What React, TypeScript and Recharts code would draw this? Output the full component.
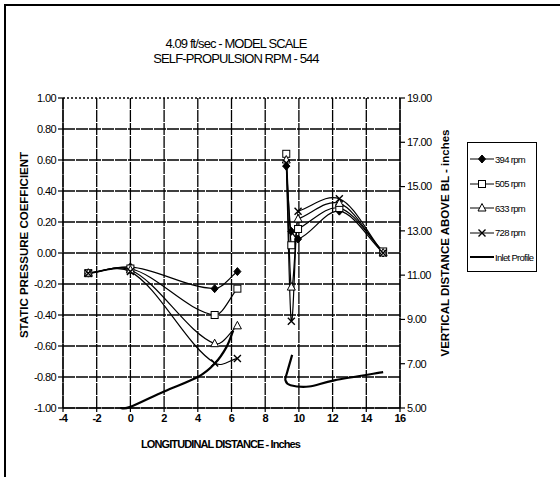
import React from "react";
import { LineChart, Line, XAxis, YAxis, ReferenceLine, Legend } from "recharts";

// stations along the hull (inches); index 4 is the gap between the two clusters
const stations = [-2.5, 0, 5, 6.35, 7.8, 9.25, 9.55, 9.95, 12.4, 15];

const cp394 = [-0.13, -0.09, -0.23, -0.12, null, 0.56, 0.14, 0.09, 0.27, 0.0];
const cp505 = [-0.13, -0.1, -0.4, -0.23, null, 0.64, 0.05, 0.155, 0.29, 0.01];
const cp633 = [-0.13, -0.11, -0.585, -0.47, null, 0.6, -0.22, 0.22, 0.32, 0.0];
const cp728 = [-0.13, -0.12, -0.71, -0.68, null, 0.58, -0.44, 0.27, 0.35, 0.0];

// inlet profile, vertical distance above BL (right axis)
const inletX = [-0.6, 0, 2, 4, 5, 5.7, 6.1, 7.8, 9.6, 9.3, 9.2, 9.5, 10.6, 12.1, 15];
const inletZ = [5.0, 5.05, 5.75, 6.4, 7.0, 7.75, 8.5, null, 7.4, 6.6, 6.25, 6.03, 5.97, 6.25, 6.62];

const xTicks = [-4, -2, 0, 2, 4, 6, 8, 10, 12, 14, 16];
const cpTicks = [-1.0, -0.8, -0.6, -0.4, -0.2, 0, 0.2, 0.4, 0.6, 0.8, 1.0];
const zTicks = [5, 7, 9, 11, 13, 15, 17, 19];

const zip = (xs: number[], ys: (number | null)[]) => xs.map((x, i) => ({ x, y: ys[i] }));

const FONT = '"Liberation Sans Narrow", "Liberation Sans", Arial, sans-serif';

// Catmull-Rom as cubic bezier, works with x going backwards too (inlet profile)
function smoothCurve(context: any) {
  let pts: number[][] = [];
  return {
    areaStart() {},
    areaEnd() {},
    lineStart() {
      pts = [];
    },
    point(x: number, y: number) {
      pts.push([+x, +y]);
    },
    lineEnd() {
      const n = pts.length;
      if (!n) return;
      context.moveTo(pts[0][0], pts[0][1]);
      for (let i = 0; i < n - 1; i++) {
        const p0 = pts[Math.max(i - 1, 0)];
        const p1 = pts[i];
        const p2 = pts[i + 1];
        const p3 = pts[Math.min(i + 2, n - 1)];
        context.bezierCurveTo(
          p1[0] + (p2[0] - p0[0]) / 6,
          p1[1] + (p2[1] - p0[1]) / 6,
          p2[0] - (p3[0] - p1[0]) / 6,
          p2[1] - (p3[1] - p1[1]) / 6,
          p2[0],
          p2[1]
        );
      }
    },
  };
}

// rough take on Excel's smoothing: overshoot at turning points, flat through steep runs
function excelCurve(context: any) {
  let pts: number[][] = [];
  return {
    areaStart() {},
    areaEnd() {},
    lineStart() {
      pts = [];
    },
    point(x: number, y: number) {
      pts.push([+x, +y]);
    },
    lineEnd() {
      const n = pts.length;
      if (!n) return;
      context.moveTo(pts[0][0], pts[0][1]);
      if (n === 1) return;
      const slope = (a: number[], b: number[]) => (b[1] - a[1]) / (b[0] - a[0] || 1e-6);
      const m: number[] = [];
      for (let i = 0; i < n; i++) {
        if (i === 0) m.push(slope(pts[0], pts[1]));
        else if (i === n - 1) m.push(slope(pts[n - 2], pts[n - 1]));
        else {
          const s0 = slope(pts[i - 1], pts[i]);
          const s1 = slope(pts[i], pts[i + 1]);
          if (s0 * s1 > 0) m.push(Math.min(Math.abs(s0), Math.abs(s1)) * Math.sign(s1));
          else m.push(0.75 * slope(pts[i - 1], pts[i + 1]));
        }
      }
      for (let i = 0; i < n - 1; i++) {
        const [x1, y1] = pts[i];
        const [x2, y2] = pts[i + 1];
        const h = (x2 - x1) / 3;
        context.bezierCurveTo(x1 + h, y1 + m[i] * h, x2 - h, y2 - m[i + 1] * h, x2, y2);
      }
    },
  };
}

type Shape = "diamond" | "square" | "triangle" | "cross";

function Marker({ shape, cx, cy }: { shape: Shape; cx: number; cy: number }) {
  if (shape === "diamond")
    return <path d={`M${cx},${cy - 4}L${cx + 3.5},${cy}L${cx},${cy + 4}L${cx - 3.5},${cy}Z`} fill="#000" stroke="#000" />;
  if (shape === "square")
    return <rect x={cx - 3.5} y={cy - 3.5} width={7} height={7} fill="#fff" stroke="#000" strokeWidth={1} />;
  if (shape === "triangle")
    return <path d={`M${cx},${cy - 4.5}L${cx + 4},${cy + 3}L${cx - 4},${cy + 3}Z`} fill="#fff" stroke="#000" strokeWidth={1} />;
  return (
    <path d={`M${cx - 3.5},${cy - 3.5}L${cx + 3.5},${cy + 3.5}M${cx + 3.5},${cy - 3.5}L${cx - 3.5},${cy + 3.5}`} stroke="#000" strokeWidth={1.4} />
  );
}

const makeDot = (shape: Shape, id: string) => (props: any) => {
  const { cx, cy, index, value } = props;
  if (cx == null || cy == null || value == null || Number.isNaN(cy)) return <g key={`${id}-${index}`} />;
  return (
    <g key={`${id}-${index}`}>
      <Marker shape={shape} cx={cx} cy={cy} />
    </g>
  );
};

const series = [
  { id: "r394", name: "394 rpm", shape: "diamond" as Shape, values: cp394 },
  { id: "r505", name: "505 rpm", shape: "square" as Shape, values: cp505 },
  { id: "r633", name: "633 rpm", shape: "triangle" as Shape, values: cp633 },
  { id: "r728", name: "728 rpm", shape: "cross" as Shape, values: cp728 },
];

const legendText = { fontFamily: FONT, fontSize: 9.5, letterSpacing: -0.7, marginLeft: 1, whiteSpace: "nowrap" as const };

function LegendBox() {
  return (
    <div style={{ border: "1px solid #000", width: 70, height: 130, boxSizing: "border-box", background: "#fff", padding: "4px 0 0 2px" }}>
      {series.map((s) => (
        <div key={s.id} style={{ display: "flex", alignItems: "center", height: 24.5 }}>
          <svg width={24} height={10} style={{ flex: "none" }}>
            <line x1={0} y1={5} x2={24} y2={5} stroke="#000" strokeWidth={1} />
            <Marker shape={s.shape} cx={12} cy={5} />
          </svg>
          <span style={legendText}>{s.name}</span>
        </div>
      ))}
      <div style={{ display: "flex", alignItems: "center", height: 24.5 }}>
        <svg width={24} height={10} style={{ flex: "none" }}>
          <line x1={0} y1={5} x2={24} y2={5} stroke="#000" strokeWidth={2} />
        </svg>
        <span style={legendText}>Inlet Profile</span>
      </div>
    </div>
  );
}

const tickStyle = { fill: "#000", fontSize: 11, fontFamily: FONT, letterSpacing: -0.6 };
const axisTitle = { fontFamily: "Liberation Sans, Arial, sans-serif", fontSize: 11.5, fontWeight: 700, fill: "#000", textAnchor: "middle" as const };

export default function App() {
  return (
    <div style={{ position: "absolute", left: 0, top: 0, width: 560, height: 477, background: "#fff", overflow: "hidden" }}>
      <div style={{ position: "absolute", left: 4, top: 4, width: 560, height: 480, borderLeft: "2px solid #000", borderTop: "2px solid #000" }} />
      <LineChart width={560} height={477} margin={{ top: 98, right: 105, bottom: 39, left: 8 }}>
        <XAxis
          dataKey="x"
          type="number"
          domain={[-4, 16]}
          ticks={xTicks}
          height={30}
          stroke="#000"
          strokeWidth={1.2}
          tickSize={4}
          tick={{ ...tickStyle, fontWeight: 700 }}
          label={{ value: "LONGITUDINAL DISTANCE - Inches", position: "bottom", offset: 2, dx: -11, style: { fontFamily: FONT, fontSize: 11, letterSpacing: -0.9, fill: "#000", fontWeight: 700 } }}
        />
        <YAxis
          yAxisId={0}
          type="number"
          domain={[-1, 1]}
          ticks={cpTicks}
          width={55}
          stroke="#000"
          strokeWidth={1.2}
          tickSize={5}
          tickFormatter={(v: number) => v.toFixed(2)}
          tick={tickStyle}
          label={{ value: "STATIC PRESSURE COEFFICIENT", angle: -90, position: "insideLeft", offset: 16, dy: -8, style: axisTitle }}
        />
        <YAxis
          yAxisId="right"
          orientation="right"
          type="number"
          domain={[5, 19]}
          ticks={zTicks}
          width={55}
          stroke="#000"
          strokeWidth={1.2}
          tickSize={5}
          tickFormatter={(v: number) => v.toFixed(2)}
          tick={tickStyle}
          label={{ value: "VERTICAL DISTANCE ABOVE BL - inches", angle: -90, position: "insideRight", offset: 10, dy: -10, style: axisTitle }}
        />
        {cpTicks.map((v) => (
          <ReferenceLine key={`h${v}`} yAxisId={0} y={v} stroke="#000" strokeWidth={1.3} strokeDasharray={v === 1 ? "2 2" : "12 1"} />
        ))}
        {xTicks.map((v) => (
          <ReferenceLine key={`v${v}`} yAxisId={0} x={v} stroke="#000" strokeWidth={1.3} strokeDasharray="12 1" />
        ))}
        {series.map((s) => (
          <Line
            key={s.id}
            yAxisId={0}
            name={s.name}
            data={zip(stations, s.values)}
            dataKey="y"
            type={excelCurve as any}
            stroke="#000"
            strokeWidth={1.2}
            dot={makeDot(s.shape, s.id)}
            activeDot={false}
            connectNulls={false}
            isAnimationActive={false}
          />
        ))}
        <Line
          yAxisId="right"
          name="Inlet Profile"
          data={zip(inletX, inletZ)}
          dataKey="y"
          type={smoothCurve as any}
          stroke="#000"
          strokeWidth={2.2}
          dot={false}
          activeDot={false}
          connectNulls={false}
          isAnimationActive={false}
        />
        <Legend
          layout="vertical"
          align="center"
          verticalAlign="middle"
          wrapperStyle={{ left: 467, top: 142, width: 72 }}
          content={() => <LegendBox />}
        />
      </LineChart>
      <div style={{ position: "absolute", left: 0, width: 472, top: 36, textAlign: "center", fontFamily: FONT, fontSize: 13, letterSpacing: -0.9, lineHeight: "15px", color: "#000" }}>
        <div>4.09 ft/sec - MODEL SCALE</div>
        <div>SELF-PROPULSION RPM - 544</div>
      </div>
    </div>
  );
}
